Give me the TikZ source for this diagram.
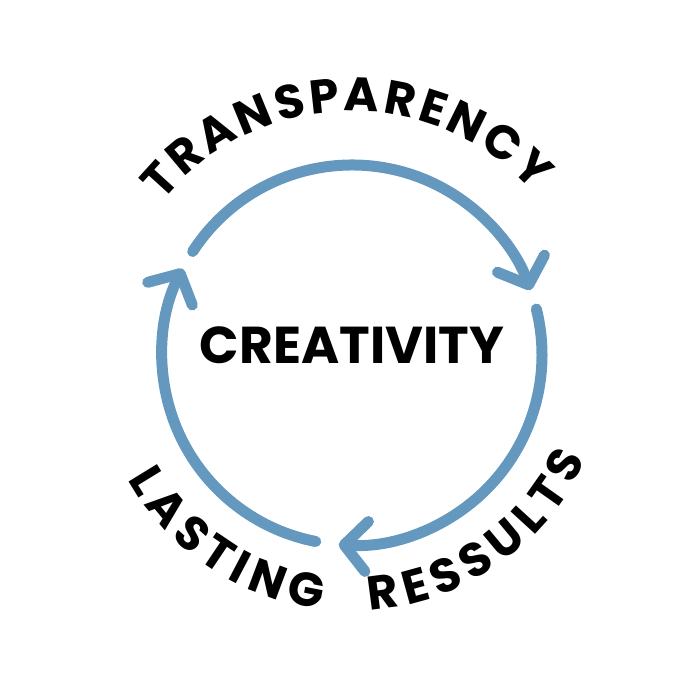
\documentclass[tikz,border=0pt]{standalone}
\usepackage{fontspec}
\setmainfont{Poppins}
\usetikzlibrary{arrows.meta, decorations.text}
\definecolor{cycleblue}{RGB}{100,152,190}
\newcommand{\ringfont}{\fontsize{27}{31}\selectfont\bfseries}

\begin{document}
\begin{tikzpicture}[
  cyclearrow/.style={draw=cycleblue, line width=0.22cm, line cap=round,
    -{Straight Barb[length=0.45cm, width=1.0cm, round]}},
  ringtext/.style={decorate, decoration={text along path, text align=fit to path, text={|\ringfont|#1}}}]
\useasboundingbox (-7.04,-6.9) rectangle (6.96,7.1);
\coordinate (centre) at (0,0);
% the three arrows of the cycle
\draw[cyclearrow] (147:3.8) arc[start angle=147, end angle=20, radius=3.8];
\draw[cyclearrow] (14:3.8) arc[start angle=14, end angle=-94, radius=3.8];
\draw[cyclearrow] (-101:3.8) arc[start angle=-101, end angle=-207, radius=3.8];
% labels round the ring
\path[ringtext=TRANSPARENCY] (141:4.88) arc[start angle=141, end angle=42, radius=4.88];
\path[ringtext=LASTING] (209:5.12) arc[start angle=209, end angle=263, radius=5.12];
\path[ringtext=RESSULTS] (274:5.12) arc[start angle=274, end angle=336, radius=5.12];
% centre
\node[font=\fontsize{29.5}{33}\selectfont\bfseries] (creativity) at (0,0.2) {CREATIVITY};
\end{tikzpicture}
\end{document}
